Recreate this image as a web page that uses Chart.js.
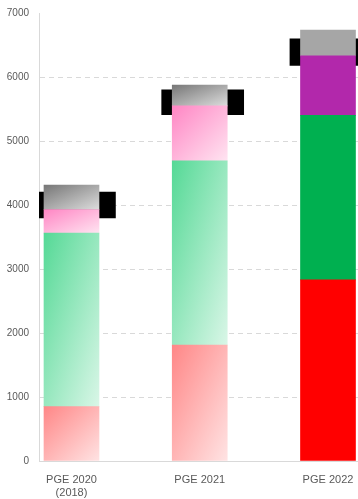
<!DOCTYPE html>
<html>
<head>
<meta charset="utf-8">
<script src="https://cdn.jsdelivr.net/npm/chart.js@4.4.0/dist/chart.umd.min.js"></script>
<style>
    html, body { margin: 0; padding: 0; background: #fff; }
    #wrap { width: 358px; height: 499px; position: relative; }
</style>
</head>
<body>
<div id="wrap"><canvas id="pgeChart"></canvas></div>
<script>
// Categories (x positions 0, 1, 2)
const categories = [['PGE 2020', '(2018)'], 'PGE 2021', 'PGE 2022'];

// Stacked segments, bottom to top
const redValues = [850, 1810, 2830];
const greenValues = [2710, 2880, 2570];
const pinkValues = [370, 860, 930];
const grayValues = [380, 325, 405];

// Black range boxes behind the stacks [low, high]
const blackRanges = [[3800, 4200], [5410, 5800], [6180, 6595]];

const yTicks = [0, 1000, 2000, 3000, 4000, 5000, 6000, 7000];

const segments = [
    { label: 'Red', values: redValues, from: '#ff8787', to: '#ffe3e3', solid: '#ff0000' },
    { label: 'Green', values: greenValues, from: '#55d996', to: '#d9f6e7', solid: '#00b050' },
    { label: 'Pink', values: pinkValues, from: '#ff86c4', to: '#ffe4f1', solid: '#b228ab' },
    { label: 'Gray', values: grayValues, from: '#777777', to: '#dcdcdc', solid: '#a6a6a6' }
];

const BAR_W = 55;

// each segment gets its own corner-to-corner gradient (scaled with the shape),
// except the last column which is solid
function segmentFill(segIndex) {
    const seg = segments[segIndex];
    return function(ctx) {
        if (ctx.type !== 'data') return seg.solid;
        const i = ctx.dataIndex;
        if (i === 2) return seg.solid;
        const chart = ctx.chart;
        const xs = chart.scales.x, ys = chart.scales.y;
        if (!chart.chartArea || !xs || !ys) return seg.from;
        let bottom = 0;
        for (let k = 0; k < segIndex; k++) bottom += segments[k].values[i];
        const top = bottom + seg.values[i];
        const left = xs.getPixelForValue(i) - BAR_W / 2;
        const yTop = ys.getPixelForValue(top);
        const w = BAR_W, h = ys.getPixelForValue(bottom) - yTop;
        // direction (h, w) so the other two corners share the middle colour
        const t = 2 * w * h / (w * w + h * h);
        const g = chart.ctx.createLinearGradient(left, yTop, left + t * h, yTop + t * w);
        g.addColorStop(0, seg.from);
        g.addColorStop(1, seg.to);
        return g;
    };
}

const datasets = segments.map((seg, s) => ({
    label: seg.label,
    data: seg.values.map((v, i) => ({ x: i, y: v })),
    backgroundColor: segmentFill(s),
    borderWidth: 0,
    barThickness: BAR_W,
    stack: 'main'
}));

// black boxes: wider, slightly shifted, drawn behind (last dataset is drawn first)
datasets.push({
    label: 'Range',
    data: blackRanges.map((r, i) => ({ x: i + 0.023, y: r })),
    backgroundColor: '#000000',
    borderWidth: 0,
    barThickness: 82,
    grouped: false,
    stack: 'range'
});

new Chart(document.getElementById('pgeChart'), {
    type: 'bar',
    data: { datasets },
    options: {
        responsive: true,
        maintainAspectRatio: false,
        animation: false,
        layout: { padding: { left: 7, right: 0, top: 13, bottom: 0 } },
        plugins: {
            legend: { display: false },
            tooltip: { enabled: false }
        },
        scales: {
            x: {
                type: 'linear',
                offset: false,
                stacked: true,
                min: -0.2534,
                max: 2.234,
                afterBuildTicks: (scale) => {
                    scale.ticks = categories.map((c, i) => ({ value: i }));
                },
                afterFit: (scale) => {
                    scale.height = 38;
                    scale.paddingLeft = 0;
                    scale.paddingRight = 0;
                },
                grid: { display: false, drawTicks: false, offset: false },
                border: { color: '#d9d9d9', width: 1 },
                ticks: {
                    padding: 12,
                    maxRotation: 0,
                    autoSkip: false,
                    color: '#595959',
                    font: { family: 'Liberation Sans, Arial, sans-serif', size: 11 },
                    callback: (value) => categories[value]
                }
            },
            y: {
                stacked: true,
                min: 0,
                max: 7000,
                afterBuildTicks: (scale) => {
                    scale.ticks = yTicks.map(v => ({ value: v }));
                },
                afterFit: (scale) => {
                    scale.width = 32;
                    scale.paddingTop = 0;
                    scale.paddingBottom = 0;
                },
                grid: {
                    color: (ctx) => (ctx.tick && (ctx.tick.value === 0 || ctx.tick.value === 7000)) ? 'rgba(0,0,0,0)' : '#d9d9d9',
                    lineWidth: 1,
                    drawTicks: false
                },
                border: { color: '#d9d9d9', width: 1, dash: [5, 4] },
                ticks: {
                    padding: 10,
                    color: '#595959',
                    font: { family: 'Liberation Sans, Arial, sans-serif', size: 10 },
                    callback: (value) => String(value)
                }
            }
        }
    }
});
</script>
</body>
</html>
